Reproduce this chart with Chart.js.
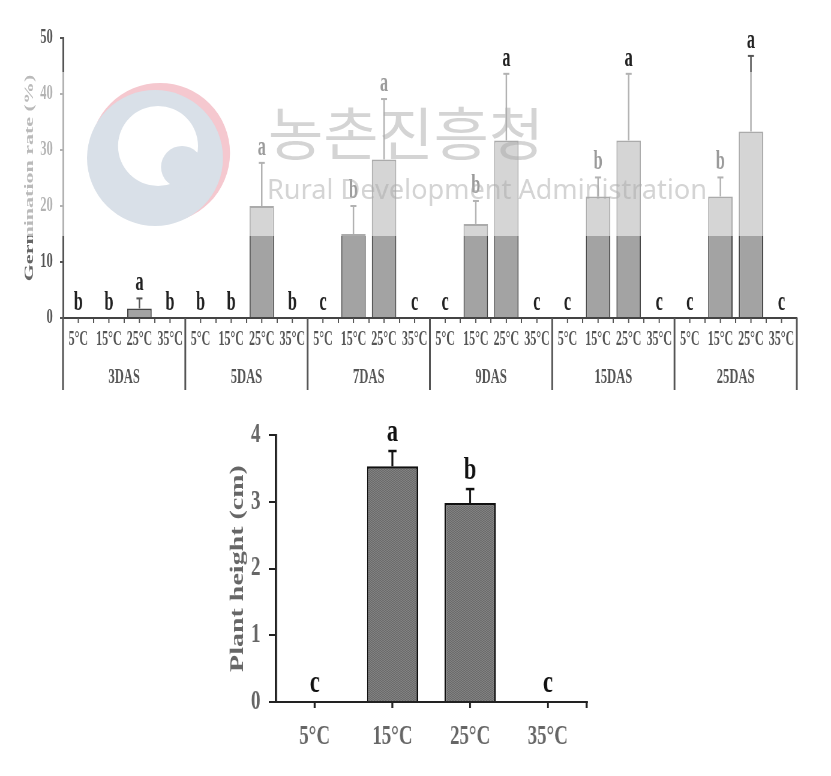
<!DOCTYPE html>
<html><head><meta charset="utf-8">
<script src="https://cdn.jsdelivr.net/npm/chart.js@4.4.1/dist/chart.umd.min.js"></script>
<style>
html,body{margin:0;padding:0;background:#fff;}
body{width:831px;height:776px;position:relative;overflow:hidden;}
canvas{position:absolute;left:0;}
</style></head><body>
<canvas id="top" width="1385" height="400" style="top:0;width:831px;height:400px;"></canvas>
<canvas id="bot" width="1187" height="376" style="top:400px;width:831px;height:376px;"></canvas>
<script>
// ---------- data ----------
const days = ['3DAS','5DAS','7DAS','9DAS','15DAS','25DAS'];
const temps = ['5°C','15°C','25°C','35°C'];
// germination rate (%) for each temperature, one value per day
const germ5  = [0,0,0,0,0,0];
const germ15 = [0,0,15,16.8,21.7,21.7];
const germ25 = [1.7,20,28.3,31.7,31.7,33.3];
const germ35 = [0,0,0,0,0,0];
const germErr5  = [0,0,0,0,0,0];
const germErr15 = [0,0,5,4.1,3.4,3.4];
const germErr25 = [1.8,7.7,10.8,11.9,11.9,13.5];
const germErr35 = [0,0,0,0,0,0];
const germLet5  = ['b','b','c','c','c','c'];
const germLet15 = ['b','b','b','b','b','b'];
const germLet25 = ['a','a','a','a','a','a'];
const germLet35 = ['b','b','c','c','c','c'];
const germTicks = [0,10,20,30,40,50];

// plant height (cm)
const heightMean = [0,3.53,2.98,0];
const heightErr  = [0,0.23,0.21,0];
const heightLet  = ['c','a','b','c'];
const heightTicks = [0,1,2,3,4];

// ---------- build flat category table ----------
const meansByT = [germ5,germ15,germ25,germ35];
const errsByT = [germErr5,germErr15,germErr25,germErr35];
const letsByT = [germLet5,germLet15,germLet25,germLet35];
const flatLabels=[], flatVals=[], flatErr=[], flatLet=[];
days.forEach((d,di)=>temps.forEach((t,ti)=>{
  flatLabels.push(t); flatVals.push(meansByT[ti][di]);
  flatErr.push(errsByT[ti][di]); flatLet.push(letsByT[ti][di]);
}));

const SERIF = '"Liberation Serif", "Times New Roman", serif';
const SX1 = 831/1385; // horizontal compression of top canvas
const SX2 = 831/1187; // bottom canvas

function line(ctx,x1,y1,x2,y2){ctx.beginPath();ctx.moveTo(x1,y1);ctx.lineTo(x2,y2);ctx.stroke();}
function disc(ctx,x,y,r){ctx.beginPath();ctx.arc(x,y,r,0,Math.PI*2);ctx.fill();}

const topPlugin = {
  id:'topDecor',
  afterDatasetsDraw(chart){
    const {ctx, scales:{x,y}} = chart;
    ctx.save();
    flatVals.forEach((v,i)=>{
      const px = x.getPixelForValue(i);
      const e = flatErr[i];
      const top = y.getPixelForValue(v+e);
      if(e>0){
        ctx.strokeStyle='#555'; ctx.lineWidth=2.5;
        line(ctx,px,y.getPixelForValue(v),px,top);
        ctx.lineWidth=2; line(ctx,px-5,top,px+5,top);
      }
      ctx.font='bold 27px '+SERIF; ctx.fillStyle='#222';
      ctx.textAlign='center'; ctx.textBaseline='alphabetic';
      ctx.fillText(flatLet[i], px, top-8);
    });
    ctx.restore();
  },
  afterDraw(chart){
    const {ctx, scales:{x,y}} = chart;
    ctx.save();
    const half = (x.getPixelForValue(1)-x.getPixelForValue(0))/2;
    ctx.strokeStyle='#555'; ctx.lineWidth=2;
    flatVals.forEach((v,i)=>{const px=x.getPixelForValue(i); line(ctx,px,y.bottom,px,y.bottom+5);});
    ctx.lineWidth=3;
    for(let g=0; g<=days.length; g++){
      const bx = g<days.length ? x.getPixelForValue(g*4)-half : x.getPixelForValue(flatVals.length-1)+half;
      line(ctx,bx,y.bottom,bx,390);
    }
    ctx.font='bold 21px '+SERIF; ctx.fillStyle='#555'; ctx.textAlign='center'; ctx.textBaseline='middle';
    days.forEach((d,g)=>{
      const cx=(x.getPixelForValue(g*4)+x.getPixelForValue(g*4+3))/2;
      ctx.fillText(d,cx,378);
    });
    // watermark (drawn in display coordinates)
    ctx.fillStyle='rgba(255,255,255,0.55)';
    ctx.fillRect(0,72,chart.width,164);
    ctx.scale(1/SX1,1);
    const cx=160, cy=153;
    ctx.fillStyle='#f5c8cf'; disc(ctx,cx,cy,70);
    ctx.fillStyle='#d9e0e8'; disc(ctx,cx-5,cy+5,68);
    ctx.fillStyle='#ffffff'; disc(ctx,cx-2,cy-7,40);
    ctx.fillStyle='#d9e0e8'; disc(ctx,cx+22,cy+14,21);
    ctx.textAlign='left'; ctx.textBaseline='middle';
    ctx.fillStyle='rgba(170,170,170,0.5)';
    ctx.font='57px "Noto Sans CJK KR"';
    let t='농촌진흥청', w=ctx.measureText(t).width;
    ctx.save(); ctx.translate(268,133); ctx.scale(276/w,1); ctx.fillText(t,0,0); ctx.restore();
    ctx.font='27px "Noto Sans"';
    t='Rural Development Administration'; w=ctx.measureText(t).width;
    ctx.save(); ctx.translate(267,191); ctx.scale(440/w,1); ctx.fillText(t,0,0); ctx.restore();
    ctx.restore();
  }
};

new Chart(document.getElementById('top'), {
  type:'bar',
  data:{labels:flatLabels, datasets:[{data:flatVals, backgroundColor:'#a3a3a3', borderColor:'#454545', borderWidth:2, barPercentage:0.8, categoryPercentage:1}]},
  options:{
    responsive:false, animation:false, devicePixelRatio:1,
    layout:{padding:{left:0,right:57,top:38,bottom:0}},
    plugins:{legend:{display:false}, tooltip:{enabled:false}},
    scales:{
      x:{
        ticks:{font:{family:SERIF,size:20,weight:'bold'}, color:'#555', maxRotation:0, minRotation:0, autoSkip:false, padding:5},
        grid:{display:true, drawOnChartArea:false, drawTicks:true, tickLength:5, offset:true, color:'#555', lineWidth:2},
        border:{display:true, color:'#444', width:2},
        afterFit:s=>{s.height=82;}
      },
      y:{
        min:0, max:50,
        afterBuildTicks:s=>{s.ticks=germTicks.map(v=>({value:v}));},
        ticks:{font:{family:SERIF,size:21,weight:'bold'}, color:'#555', padding:12},
        grid:{drawOnChartArea:false, tickLength:5, color:'#555', lineWidth:2},
        border:{display:true, color:'#555', width:3},
        title:{display:true, text:'Germination rate (%)', font:{family:SERIF,size:22,weight:'bold'}, color:'#666', padding:{top:36,bottom:0}},
        afterFit:s=>{s.width=105;}
      }
    }
  },
  plugins:[topPlugin]
});

// ---------- bottom chart ----------
const botCanvas = document.getElementById('bot');
function makePattern(){
  const c=document.createElement('canvas'); c.width=4; c.height=2;
  const g=c.getContext('2d');
  g.fillStyle='#6a6a6a'; g.fillRect(0,0,4,2);
  g.fillStyle='#828282'; g.fillRect(0,0,2,1); g.fillRect(2,1,2,1);
  return botCanvas.getContext('2d').createPattern(c,'repeat');
}
const botPlugin = {
  id:'botDecor',
  afterDatasetsDraw(chart){
    const {ctx, scales:{x,y}} = chart;
    ctx.save();
    heightMean.forEach((v,i)=>{
      const px=x.getPixelForValue(i), e=heightErr[i];
      const top=y.getPixelForValue(v+e);
      if(e>0){
        ctx.strokeStyle='#111'; ctx.lineWidth=2.8;
        line(ctx,px,y.getPixelForValue(v),px,top);
        ctx.lineWidth=2.5; line(ctx,px-6,top,px+6,top);
      }
      ctx.font='bold 32px '+SERIF; ctx.fillStyle='#111';
      ctx.textAlign='center'; ctx.textBaseline='alphabetic';
      ctx.fillText(heightLet[i], px, top-10);
    });
    ctx.restore();
  },
  afterDraw(chart){
    const {ctx, scales:{x,y}} = chart;
    ctx.save();
    ctx.strokeStyle='#222'; ctx.lineWidth=2;
    line(ctx,x.left-9,y.bottom,x.left,y.bottom);
    ctx.lineWidth=2.8;
    line(ctx,x.right,y.bottom,x.right,y.bottom+6);
    ctx.restore();
  }
};
new Chart(botCanvas, {
  type:'bar',
  data:{labels:temps, datasets:[{data:heightMean, backgroundColor:makePattern(), borderColor:'#111', borderWidth:2.5, barPercentage:0.66, categoryPercentage:1}]},
  options:{
    responsive:false, animation:false, devicePixelRatio:1,
    layout:{padding:{left:0,right:349,top:35,bottom:0}},
    plugins:{legend:{display:false}, tooltip:{enabled:false}},
    scales:{
      x:{
        ticks:{font:{family:SERIF,size:27,weight:'bold'}, color:'#666', maxRotation:0, autoSkip:false, padding:13},
        grid:{display:true, drawOnChartArea:false, tickLength:6, offset:false, color:'#222', lineWidth:2.8},
        border:{display:true, color:'#222', width:2},
        afterFit:s=>{s.height=74;}
      },
      y:{
        min:0, max:4,
        afterBuildTicks:s=>{s.ticks=heightTicks.map(v=>({value:v}));},
        ticks:{font:{family:SERIF,size:27,weight:'bold'}, color:'#666', padding:12},
        grid:{drawOnChartArea:false, tickLength:10, color:'#222', lineWidth:2},
        border:{display:true, color:'#222', width:2.8},
        title:{display:true, text:'Plant height (cm)', font:{family:SERIF,size:28,weight:'bold'}, color:'#666', padding:{top:323,bottom:0}},
        afterFit:s=>{s.width=394;}
      }
    }
  },
  plugins:[botPlugin]
});
</script>
</body></html>
